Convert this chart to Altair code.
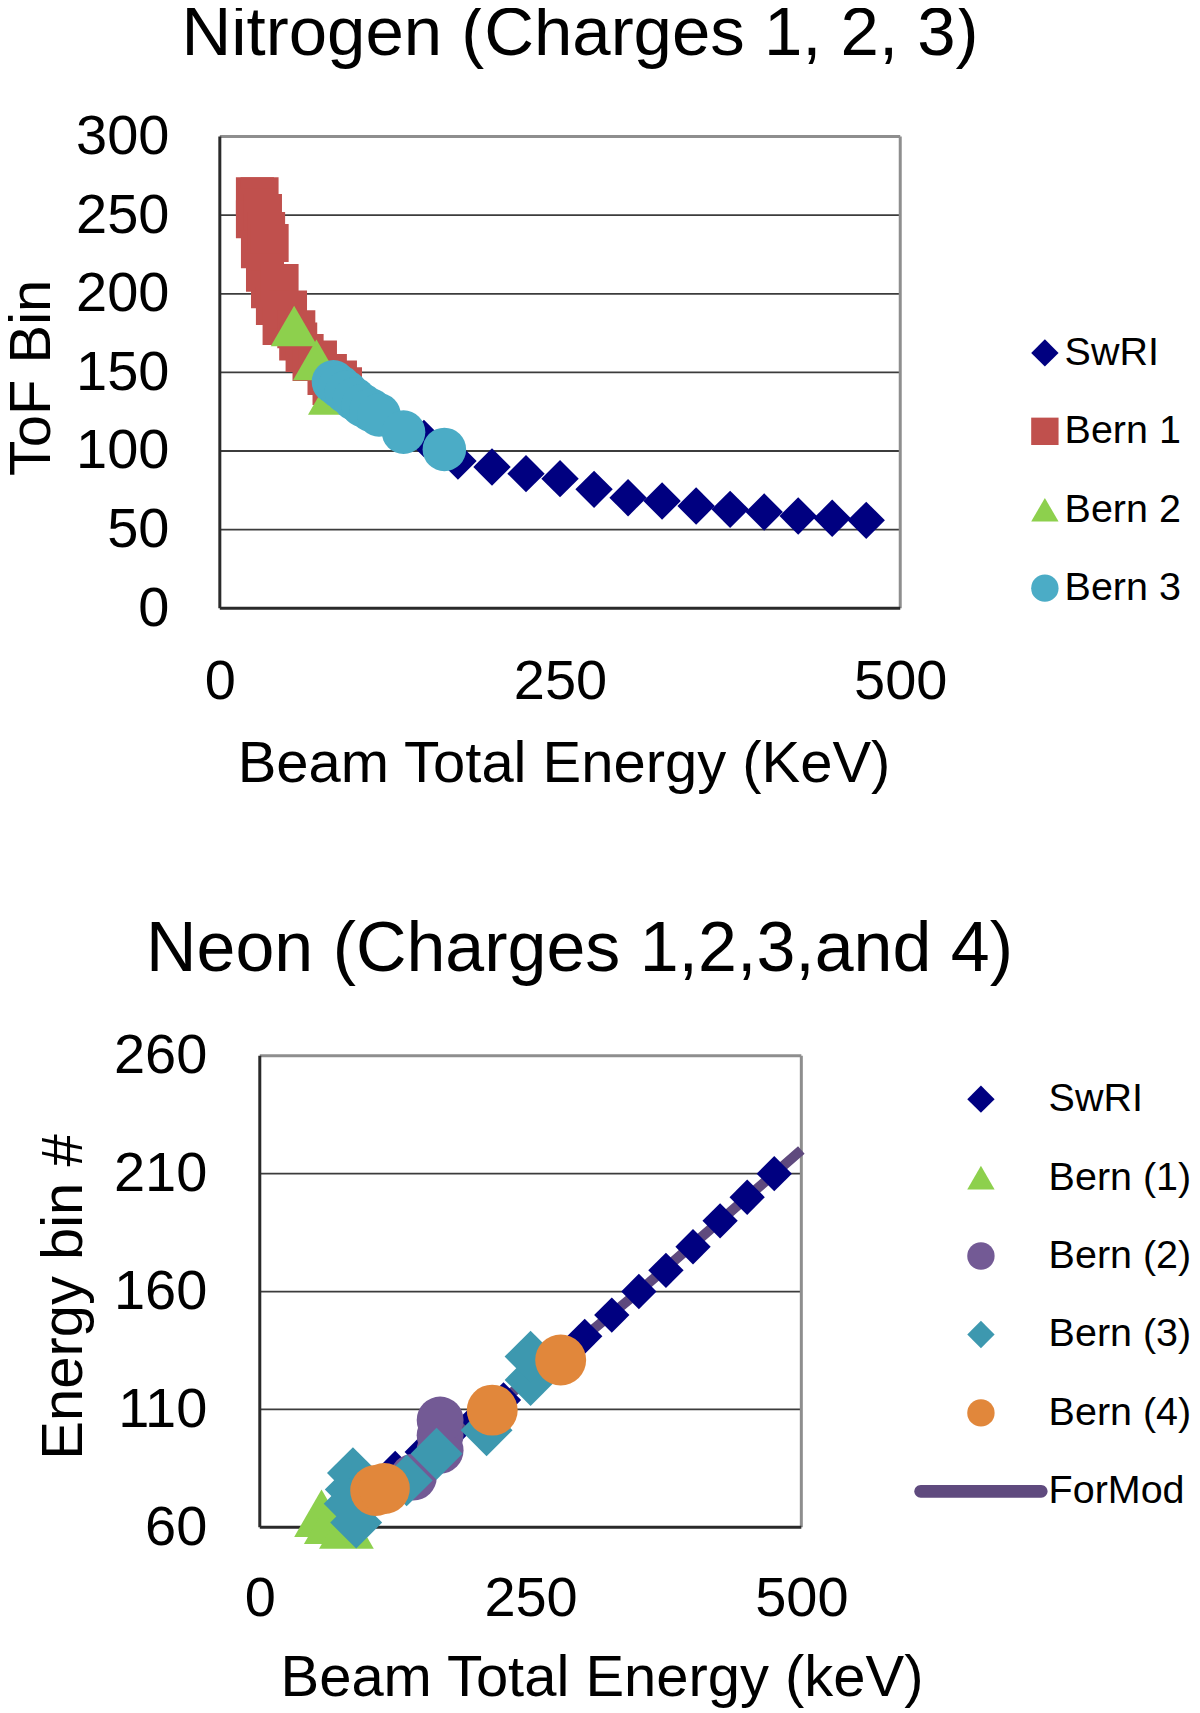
import altair as alt
import pandas as pd

FONT = "Liberation Sans"

# ---------------- Nitrogen (Charges 1, 2, 3) ----------------
N_SERIES = ["SwRI", "Bern 1", "Bern 2", "Bern 3"]
N_COLORS = ["#000080", "#C0504D", "#8DD04D", "#4BACC6"]
N_SHAPES = ["diamond", "square", "triangle-up", "circle"]

n_swri_x = [100, 125, 150, 175, 200, 225, 250, 275, 300, 325, 350, 375, 400, 425, 450, 475]
n_swri_y = [130, 118, 108, 93.6, 89.8, 85.6, 82.4, 75.6, 70.3, 68.2, 65.0, 62.9, 61.2, 58.7, 57.2, 55.9]
n_bern1_x = [25.8, 29.2, 27.5, 25.8, 31.7, 29.5, 34.0, 36.6, 33.2, 36.9, 40.5, 43.9,
             45.4, 50.1, 56.2, 57.6, 62.3, 67.4, 72.1, 78.4, 79.4, 82.1, 86.8, 90.5]
n_bern1_y = [262, 262, 255, 247.4, 251.4, 228.3, 240, 232.3, 213.4, 202.9, 192.2, 206.9,
             179.5, 190, 177.5, 169.6, 162.4, 156.6, 158.2, 147.7, 149.6, 141.4, 145.5, 141.2]
n_bern2_x = [54.6, 71, 82]
n_bern2_y = [179.5, 158, 136]
n_bern3_x = [83.5, 88, 93, 99, 105, 111, 117, 135, 165]
n_bern3_y = [144, 141, 137.5, 133, 129, 126, 123, 112, 101]

n_x_domain = [0, 500]
n_y_domain = [0, 300]
n_x_ticks = [0, 250, 500]
n_y_ticks = [0, 50, 100, 150, 200, 250, 300]
n_grid = [50, 100, 150, 200, 250]

# ---------------- Neon (Charges 1,2,3,and 4) ----------------
FORMOD_SYMBOL = ("M-4.4,-0.47L4.4,-0.47A0.47,0.47,0,0,1,4.4,0.47"
                 "L-4.4,0.47A0.47,0.47,0,0,1,-4.4,-0.47Z")
NE_SERIES = ["SwRI", "Bern (1)", "Bern (2)", "Bern (3)", "Bern (4)", "ForMod"]
NE_COLORS = ["#000080", "#8DD04D", "#735A95", "#3D98AF", "#E1873B", "#5F4A7E"]
NE_SHAPES = ["diamond", "triangle-up", "circle", "diamond", "circle", FORMOD_SYMBOL]

ne_swri_x = [125, 150, 175, 200, 225, 250, 275, 300, 325, 350, 375, 400, 425, 450, 475]
ne_swri_y = [85, 92, 99, 106, 114, 123, 132, 141, 150, 160, 169, 179, 190, 200, 210]
ne_bern1_x = [57, 66, 80]
ne_bern1_y = [66, 63, 61]
ne_bern2_x = [141.8, 166.5, 166.5, 166.5]
ne_bern2_y = [81.3, 92.7, 99, 105.5]
ne_bern3_x = [86, 84, 83, 89, 135.6, 163.2, 209.4, 250, 250]
ne_bern3_y = [83, 76, 70, 62, 79.9, 91.2, 101.2, 122.5, 132.4]
ne_bern4_x = [107, 115, 214.6, 277.8]
ne_bern4_y = [75.6, 76.5, 109.7, 131]
ne_formod_x = [100, 150, 200, 250, 300, 350, 400, 450, 500]
ne_formod_y = [77, 92, 106, 123, 141, 160, 180, 200, 220]

ne_x_domain = [0, 500]
ne_y_domain = [60, 260]
ne_x_ticks = [0, 250, 500]
ne_y_ticks = [60, 110, 160, 210, 260]
ne_grid = [110, 160, 210]

# ---------------- layout constants ----------------
N_W, N_H = 681, 472
NE_W, NE_H = 582, 472
NE_LEFT_GAP = 40  # plot area of Neon starts 40px right of the Nitrogen plot area
ne_x_lo = -NE_LEFT_GAP * (ne_x_domain[1] - ne_x_domain[0]) / (NE_W - NE_LEFT_GAP)

DARK = "#2a2a2a"
LIGHT = "#8e8e8e"
GRIDC = "#3c3c3c"


def pts(xs, ys, name):
    return pd.DataFrame({"x": xs, "y": ys, "series": [name] * len(xs)})


def frame_frames(xd, yd):
    dark = pd.DataFrame({"x0": [xd[0], xd[0]], "x1": [xd[0], xd[1]],
                         "y0": [yd[0], yd[0]], "y1": [yd[1], yd[0]]})
    light = pd.DataFrame({"x0": [xd[0], xd[1]], "x1": [xd[1], xd[1]],
                          "y0": [yd[1], yd[0]], "y1": [yd[1], yd[1]]})
    return dark, light


def build_panel(xscale, yscale, xaxis, yaxis, fill_scale, shape_scale, legend,
                xd, yd, grid_vals, point_sets, title, width, height, line_df=None, line_color=None):
    def X(f):
        return alt.X(f, type="quantitative", scale=xscale, axis=xaxis)

    def Y(f):
        return alt.Y(f, type="quantitative", scale=yscale, axis=yaxis)

    grid_df = pd.DataFrame({"v": grid_vals, "x0": [xd[0]] * len(grid_vals), "x1": [xd[1]] * len(grid_vals)})
    layers = [
        alt.Chart(grid_df).mark_rule(color=GRIDC, strokeWidth=1.8).encode(
            x=X("x0"), x2="x1", y=Y("v")),
    ]
    dark, light = frame_frames(xd, yd)
    layers.append(alt.Chart(light).mark_rule(color=LIGHT, strokeWidth=3).encode(
        x=X("x0"), x2="x1", y=Y("y0"), y2="y1"))
    layers.append(alt.Chart(dark).mark_rule(color=DARK, strokeWidth=3).encode(
        x=X("x0"), x2="x1", y=Y("y0"), y2="y1"))
    if line_df is not None:
        layers.append(alt.Chart(line_df).mark_line(color=line_color, strokeWidth=10).encode(
            x=X("x"), y=Y("y")))
    for df, size in point_sets:
        layers.append(
            alt.Chart(df).mark_point(filled=True, size=size, opacity=1, strokeWidth=0).encode(
                x=X("x"), y=Y("y"),
                fill=alt.Fill("series:N", scale=fill_scale, legend=legend),
                shape=alt.Shape("series:N", scale=shape_scale, legend=legend),
            )
        )
    return alt.layer(*layers).properties(
        width=width, height=height, title=title,
        view=alt.ViewBackground(stroke="transparent", strokeWidth=0, strokeOpacity=0),
    )


def axis(values, title, label_pad, title_x, title_y, **kw):
    return alt.Axis(values=values, title=title, grid=False, domain=False, ticks=False,
                    labelFont=FONT, labelFontSize=56, labelColor="black", labelPadding=label_pad,
                    labelFlush=False, labelOverlap=False,
                    titleFont=FONT, titleFontSize=58, titleFontWeight="normal", titleColor="black",
                    titleX=title_x, titleY=title_y, titleBaseline="alphabetic", **kw)


# ---- Nitrogen panel ----
n_legend = alt.Legend(orient="none", legendX=806, legendY=196.7, title=None,
                      labelFont=FONT, labelFontSize=39.5, labelColor="black", labelLimit=400,
                      symbolSize=750, symbolStrokeWidth=0, symbolOpacity=1,
                      rowPadding=37.5, labelOffset=0, padding=0)
n_chart = build_panel(
    alt.Scale(domain=n_x_domain, nice=False, zero=False),
    alt.Scale(domain=n_y_domain, nice=False, zero=False),
    axis(n_x_ticks, "Beam Total Energy (KeV)", 46.5, 344, 173),
    axis(n_y_ticks, "ToF Bin", 51, -170, 241, titleAngle=270),
    alt.Scale(domain=N_SERIES, range=N_COLORS),
    alt.Scale(domain=N_SERIES, range=N_SHAPES),
    n_legend, n_x_domain, n_y_domain, n_grid,
    [(pts(n_swri_x, n_swri_y, "SwRI"), 1400),
     (pts(n_bern1_x, n_bern1_y, "Bern 1"), 1450),
     (pts(n_bern2_x, n_bern2_y, "Bern 2"), 2200),
     (pts(n_bern3_x, n_bern3_y, "Bern 3"), 1900)],
    alt.TitleParams("Nitrogen (Charges 1, 2, 3)", font=FONT, fontSize=69, fontWeight="normal",
                    color="black", anchor="middle", frame="group", dx=20, offset=-14.9,
                    baseline="alphabetic"),
    N_W, N_H,
)

# ---- Neon panel ----
ne_legend = alt.Legend(orient="none", legendX=742, legendY=23.7, title=None,
                       labelFont=FONT, labelFontSize=39.5, labelColor="black", labelLimit=400,
                       symbolSize=750, symbolStrokeWidth=0, symbolOpacity=1,
                       rowPadding=37.5, labelOffset=48, padding=0)
ne_chart = build_panel(
    alt.Scale(domain=[ne_x_lo, ne_x_domain[1]], nice=False, zero=False),
    alt.Scale(domain=ne_y_domain, nice=False, zero=False),
    axis(ne_x_ticks, "Beam Total Energy (keV)", 44, 382, 168),
    axis(ne_y_ticks, "Energy bin #", 53, -178, 241, titleAngle=270, offset=-NE_LEFT_GAP),
    alt.Scale(domain=NE_SERIES, range=NE_COLORS),
    alt.Scale(domain=NE_SERIES, range=NE_SHAPES),
    ne_legend, ne_x_domain, ne_y_domain, ne_grid,
    [(pts(ne_swri_x, ne_swri_y, "SwRI"), 1250),
     (pts(ne_bern1_x, ne_bern1_y, "Bern (1)"), 3000),
     (pts(ne_bern2_x, ne_bern2_y, "Bern (2)"), 2200),
     (pts(ne_bern3_x, ne_bern3_y, "Bern (3)"), 2700),
     (pts(ne_bern4_x, ne_bern4_y, "Bern (4)"), 2600)],
    alt.TitleParams("Neon (Charges 1,2,3,and 4)", font=FONT, fontSize=70, fontWeight="normal",
                    color="black", anchor="middle", frame="group", dx=69, offset=-13.5,
                    baseline="alphabetic"),
    NE_W, NE_H,
    line_df=pd.DataFrame({"x": ne_formod_x, "y": ne_formod_y}),
    line_color="#5F4A7E",
)

chart = (
    alt.vconcat(n_chart, ne_chart, spacing=121.9)
    .resolve_scale(fill="independent", shape="independent")
    .properties(padding={"top": -10, "left": -4, "right": 0, "bottom": 0}, background="white")
    .configure_view(strokeOpacity=0, strokeWidth=0)
    .configure_axis(domain=False, grid=False, ticks=False)
    .configure(font=FONT)
)

chart.save("out.html", embed_options={"renderer": "svg", "actions": False})
